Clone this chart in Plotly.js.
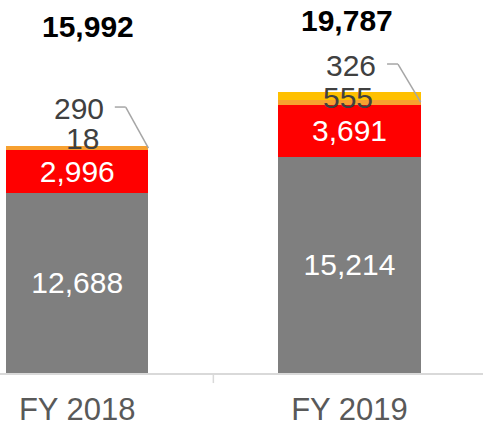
<!DOCTYPE html>
<html>
<head>
<meta charset="utf-8">
<script src="https://cdn.plot.ly/plotly-3.0.1.min.js"></script>
<style>html,body{margin:0;padding:0;background:#fff;}#chart{width:483px;height:427px;}</style>
</head>
<body>
<div id="chart"></div>
<script>
const categories = ['FY 2018', 'FY 2019'];
const grayValues = [12688, 15214];
const redValues = [2996, 3691];
const orangeValues = [290, 326];
const goldValues = [18, 555];
const totals = [15992, 19787];

const FONT = 'Liberation Sans, Arial, sans-serif';
const barWidth = 0.523;

function barTrace(vals, color, showText) {
  return {
    type: 'bar', x: categories, y: vals, width: barWidth,
    marker: {color: color, line: {width: 0}},
    text: showText ? vals.map(v => v.toLocaleString('en-US')) : undefined,
    textposition: showText ? 'inside' : 'none',
    insidetextanchor: 'middle',
    textangle: 0,
    constraintext: 'none',
    insidetextfont: {family: FONT, size: 30, color: '#FFFFFF'},
    hoverinfo: 'skip'
  };
}

const data = [
  barTrace(grayValues, '#7F7F7F', true),
  barTrace(redValues, '#FF0000', true),
  barTrace(orangeValues, '#F7A030', false),
  barTrace(goldValues, '#FFC000', false)
];

// label placement (layout constants)
const orangeLabelY = [18630, 21660];
const goldLabelY = [16480, 19400];
const totalLabelPaperY = [0.929, 0.944];
const totalLabelShift = [11, -2];

const annotations = [];
const shapes = [];
categories.forEach((c, i) => {
  const orangeBase = grayValues[i] + redValues[i];
  const orangeMid = orangeBase + orangeValues[i] / 2;
  annotations.push({
    x: i, y: orangeLabelY[i], xref: 'x', yref: 'y', xshift: 2, yanchor: 'middle',
    text: orangeValues[i].toLocaleString('en-US'), showarrow: false,
    font: {family: FONT, size: 30, color: '#404040'}
  });
  annotations.push({
    x: i, y: goldLabelY[i], xref: 'x', yref: 'y', xshift: i === 0 ? 5 : -1, yanchor: 'middle',
    text: goldValues[i].toLocaleString('en-US'), showarrow: false,
    font: {family: FONT, size: 30, color: '#404040'}
  });
  annotations.push({
    x: i, y: totalLabelPaperY[i], xref: 'x', yref: 'paper', xshift: totalLabelShift[i], yanchor: 'middle',
    text: '<b>' + totals[i].toLocaleString('en-US') + '</b>', showarrow: false,
    font: {family: FONT, size: 30, color: '#000000'}
  });
  const lineY = orangeLabelY[i] + 100;
  shapes.push({type: 'line', xref: 'x', yref: 'y', x0: i + 0.138, x1: i + 0.178, y0: lineY, y1: lineY,
    line: {color: '#A6A6A6', width: 1.5}});
  shapes.push({type: 'line', xref: 'x', yref: 'y', x0: i + 0.178, x1: i + barWidth / 2, y0: lineY, y1: orangeMid,
    line: {color: '#A6A6A6', width: 1.5}});
});
shapes.push({type: 'line', xref: 'x', yref: 'paper', x0: 0.5, x1: 0.5, y0: 0, y1: -0.027,
  line: {color: '#D9D9D9', width: 1.5}});

const layout = {
  width: 483, height: 427,
  margin: {l: 0, r: 0, t: 0, b: 54, pad: 0},
  paper_bgcolor: '#FFFFFF', plot_bgcolor: '#FFFFFF',
  barmode: 'stack',
  showlegend: false,
  xaxis: {
    type: 'category', range: [-0.2837, 1.4904],
    showline: true, linecolor: '#D9D9D9', linewidth: 2,
    showgrid: false, zeroline: false, ticks: '',
    tickfont: {family: FONT, size: 31, color: '#595959'},
    ticklabelstandoff: 8
  },
  yaxis: {
    range: [0, 26268], visible: false, showgrid: false, zeroline: false, fixedrange: true
  },
  annotations: annotations,
  shapes: shapes
};

Plotly.newPlot('chart', data, layout, {displayModeBar: false, staticPlot: true});
</script>
</body>
</html>
